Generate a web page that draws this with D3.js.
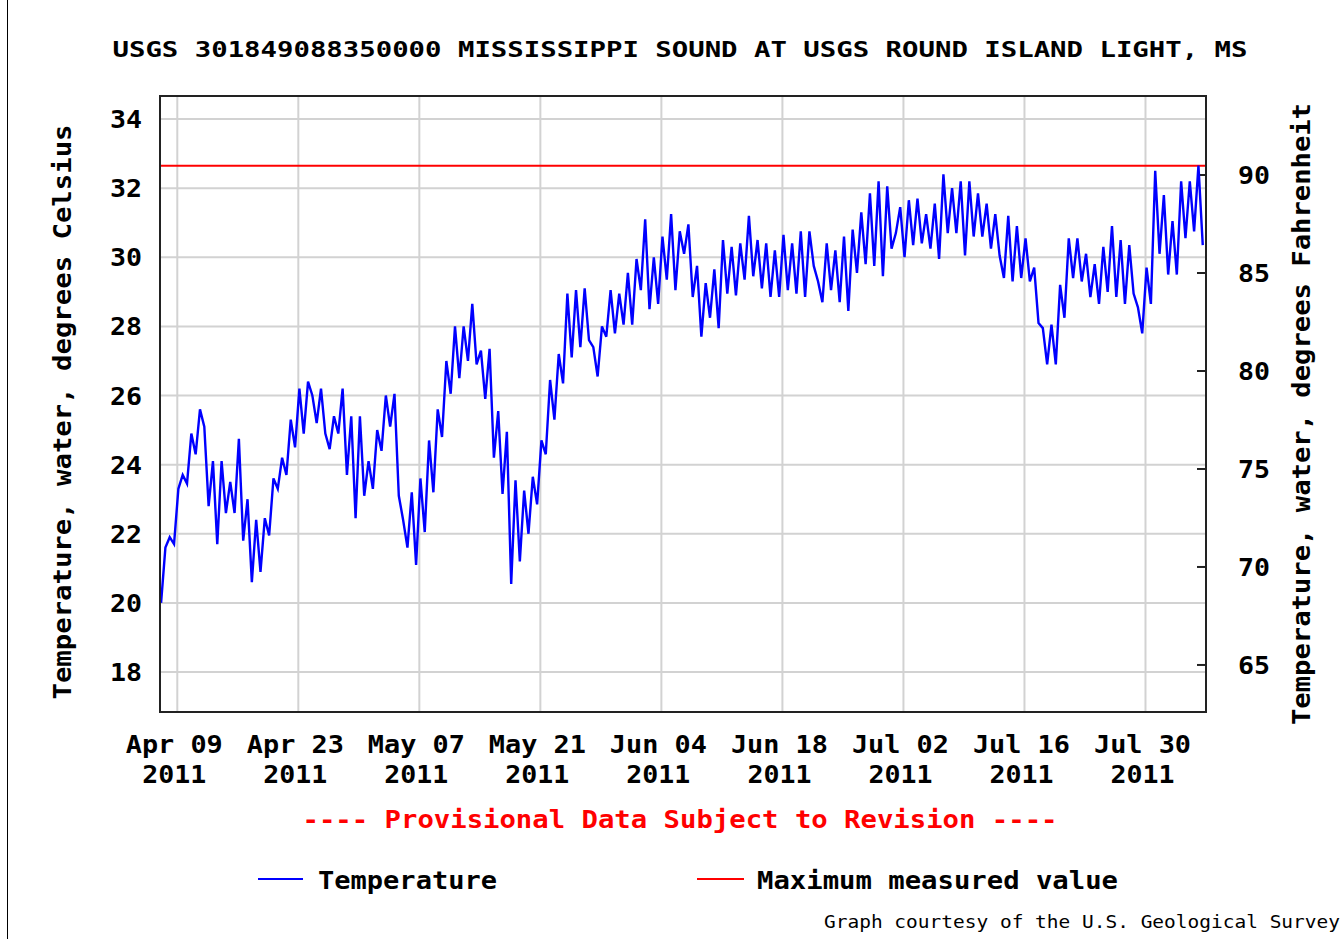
<!DOCTYPE html>
<html><head><meta charset="utf-8">
<script src="https://cdn.jsdelivr.net/npm/d3@7"></script>
<style>
body{margin:0;background:#fff}
svg{display:block}
text{font-family:"DejaVu Sans Mono",monospace}
</style>
</head><body>
<svg id="chart" width="1344" height="939"></svg>
<script>
// ---------------- DATA ----------------
const chartTitle = "USGS 301849088350000 MISSISSIPPI SOUND AT USGS ROUND ISLAND LIGHT, MS";
const leftAxisTitle = "Temperature, water, degrees Celsius";
const rightAxisTitle = "Temperature, water, degrees Fahrenheit";
const provisionalNote = "---- Provisional Data Subject to Revision ----";
const legendLabels = ["Temperature", "Maximum measured value"];
const creditText = "Graph courtesy of the U.S. Geological Survey";

const seriesStart = "2011-04-07 03";   // first reading (local time)
const seriesStepHours = 12;             // spacing of the readings below
// water temperature, degrees Celsius
const temperatureC = [
 20.0,21.6,21.9,21.7,23.3,23.7,23.45,24.9,24.3,25.6,
 25.1,22.8,24.1,21.7,24.1,22.6,23.5,22.6,24.75,21.8,
 23.0,20.6,22.4,20.9,22.45,21.95,23.6,23.3,24.2,23.7,
 25.3,24.5,26.2,24.9,26.4,26.0,25.2,26.2,24.9,24.45,
 25.4,24.9,26.2,23.7,25.4,22.45,25.4,23.1,24.1,23.3,
 25.0,24.4,26.0,25.1,26.05,23.1,22.4,21.6,23.2,21.1,
 23.6,22.05,24.7,23.2,25.6,24.8,27.0,26.05,28.0,26.5,
 28.0,27.0,28.65,26.9,27.3,25.9,27.35,24.2,25.55,23.15,
 24.95,20.55,23.55,21.2,23.25,22.0,23.65,22.85,24.7,24.3,
 26.45,25.3,27.2,26.35,28.95,27.1,29.05,27.4,29.1,27.6,
 27.4,26.55,28.0,27.7,29.05,27.8,28.95,28.05,29.55,28.05,
 29.95,29.05,31.1,28.5,30.0,28.65,30.6,29.35,31.25,29.05,
 30.75,30.1,30.95,28.85,29.75,27.7,29.25,28.25,29.65,27.95,
 30.5,28.95,30.3,28.9,30.4,29.35,31.2,29.45,30.5,29.1,
 30.4,28.85,30.2,28.85,30.65,29.05,30.4,28.95,30.75,28.85,
 30.75,29.75,29.3,28.7,30.4,29.05,30.2,28.7,30.6,28.45,
 30.8,29.55,31.3,29.8,31.85,29.75,32.2,29.45,32.05,30.25,
 30.7,31.45,30.0,31.65,30.35,31.7,30.4,31.25,30.25,31.55,
 29.95,32.4,30.7,32.0,30.7,32.2,30.05,32.2,30.6,31.85,
 30.6,31.55,30.25,31.25,30.05,29.4,31.2,29.3,30.9,29.4,
 30.55,29.3,29.7,28.1,27.95,26.9,28.05,26.9,29.2,28.25,
 30.55,29.4,30.55,29.3,30.1,28.85,29.8,28.65,30.3,29.0,
 30.9,28.85,30.5,28.65,30.35,28.95,28.55,27.8,29.7,28.65,
 32.5,30.1,31.8,29.5,31.05,29.5,32.2,30.55,32.2,30.75,
 32.65,30.35
];

const celsiusTicks = [18, 20, 22, 24, 26, 28, 30, 32, 34];
const fahrenheitTicks = [65, 70, 75, 80, 85, 90];
const dateTicks = ["2011-04-09","2011-04-23","2011-05-07","2011-05-21","2011-06-04",
                   "2011-06-18","2011-07-02","2011-07-16","2011-07-30"];
const dateDomain = ["2011-04-07", "2011-08-06"];
const celsiusDomain = [16.843, 34.666];
const fahrenheitDomain = [62.6, 94.03];

// ---------------- LAYOUT ----------------
const W = 1344, H = 939;
const plot = {left: 160, right: 1206, top: 96, bottom: 712};
const blue = "#0000ff", red = "#ff0000", grid = "#d2d2d2";

const parseDay = d3.timeParse("%Y-%m-%d");
const parseHour = d3.timeParse("%Y-%m-%d %H");
const t0 = parseHour(seriesStart);
const series = temperatureC.map((v, i) => ({t: d3.timeHour.offset(t0, i * seriesStepHours), v}));

const x = d3.scaleTime().domain(dateDomain.map(parseDay)).range([plot.left, plot.right]);
const y = d3.scaleLinear().domain(celsiusDomain).range([plot.bottom, plot.top]);
const yF = d3.scaleLinear().domain(fahrenheitDomain).range([plot.bottom, plot.top]);

const svg = d3.select("#chart");
svg.append("rect").attr("width", W).attr("height", H).attr("fill", "#fff");

// outer frame (left edge visible in the reference)
svg.append("line").attr("x1", 7.5).attr("x2", 7.5).attr("y1", 0).attr("y2", H).attr("stroke", "#000").attr("stroke-width", 1);

// title
svg.append("text").attr("x", 680).attr("y", 57).attr("text-anchor", "middle")
  .attr("font-size", 21).attr("font-weight", "bold").attr("fill", "#000")
  .attr("textLength", 1135).attr("lengthAdjust", "spacingAndGlyphs").text(chartTitle);

// grid
const gGrid = svg.append("g");
gGrid.selectAll("line.h").data(celsiusTicks).join("line")
  .attr("x1", plot.left).attr("x2", plot.right)
  .attr("y1", d => y(d)).attr("y2", d => y(d))
  .attr("stroke", grid).attr("stroke-width", 2);
gGrid.selectAll("line.v").data(dateTicks.map(parseDay)).join("line")
  .attr("x1", d => x(d)).attr("x2", d => x(d))
  .attr("y1", plot.top).attr("y2", plot.bottom)
  .attr("stroke", grid).attr("stroke-width", 2);

// left axis labels
svg.append("g").selectAll("text").data(celsiusTicks).join("text")
  .attr("x", 142).attr("y", d => y(d) + 9).attr("text-anchor", "end")
  .attr("font-size", 24).attr("font-weight", "bold")
  .attr("textLength", 32).attr("lengthAdjust", "spacingAndGlyphs")
  .text(d => d);

// right axis ticks + labels
const gR = svg.append("g");
gR.selectAll("line").data(fahrenheitTicks).join("line")
  .attr("x1", plot.right - 9).attr("x2", plot.right)
  .attr("y1", d => yF(d)).attr("y2", d => yF(d))
  .attr("stroke", "#222").attr("stroke-width", 2);
gR.selectAll("text").data(fahrenheitTicks).join("text")
  .attr("x", 1238).attr("y", d => yF(d) + 9)
  .attr("font-size", 24).attr("font-weight", "bold")
  .attr("textLength", 32).attr("lengthAdjust", "spacingAndGlyphs")
  .text(d => d);

// bottom axis labels (two lines)
const fmtDay = d3.timeFormat("%b %d"), fmtYear = d3.timeFormat("%Y");
const gB = svg.append("g");
gB.selectAll("text.d").data(dateTicks.map(parseDay)).join("text")
  .attr("x", d => x(d) - 3).attr("y", 753).attr("text-anchor", "middle")
  .attr("font-size", 24).attr("font-weight", "bold")
  .attr("textLength", 97).attr("lengthAdjust", "spacingAndGlyphs")
  .text(d => fmtDay(d));
gB.selectAll("text.y").data(dateTicks.map(parseDay)).join("text")
  .attr("x", d => x(d) - 3).attr("y", 783).attr("text-anchor", "middle")
  .attr("font-size", 24).attr("font-weight", "bold")
  .attr("textLength", 64).attr("lengthAdjust", "spacingAndGlyphs")
  .text(d => fmtYear(d));

// axis titles
svg.append("text").attr("transform", "translate(71,412) rotate(-90)")
  .attr("text-anchor", "middle").attr("font-size", 24).attr("font-weight", "bold")
  .attr("textLength", 575).attr("lengthAdjust", "spacingAndGlyphs").text(leftAxisTitle);
svg.append("text").attr("transform", "translate(1310,414) rotate(-90)")
  .attr("text-anchor", "middle").attr("font-size", 24).attr("font-weight", "bold")
  .attr("textLength", 622).attr("lengthAdjust", "spacingAndGlyphs").text(rightAxisTitle);

// clip
svg.append("clipPath").attr("id", "clip").append("rect")
  .attr("x", plot.left).attr("y", plot.top)
  .attr("width", plot.right - plot.left).attr("height", plot.bottom - plot.top);

// max measured value line
const maxVal = d3.max(temperatureC);
svg.append("line").attr("x1", plot.left).attr("x2", plot.right)
  .attr("y1", y(maxVal)).attr("y2", y(maxVal))
  .attr("stroke", red).attr("stroke-width", 2);

// temperature line
const line = d3.line().x(d => x(d.t)).y(d => y(d.v));
svg.append("path").datum(series).attr("d", line)
  .attr("clip-path", "url(#clip)")
  .attr("fill", "none").attr("stroke", blue).attr("stroke-width", 2.4)
  .attr("stroke-linejoin", "miter");

// plot border
svg.append("rect").attr("x", plot.left).attr("y", plot.top)
  .attr("width", plot.right - plot.left).attr("height", plot.bottom - plot.top)
  .attr("fill", "none").attr("stroke", "#222").attr("stroke-width", 2);

// provisional note
svg.append("text").attr("x", 680).attr("y", 828).attr("text-anchor", "middle")
  .attr("font-size", 24).attr("font-weight", "bold").attr("fill", red)
  .attr("textLength", 755).attr("lengthAdjust", "spacingAndGlyphs").text(provisionalNote);

// legend
const legend = [
  {label: legendLabels[0], color: blue, x1: 258, x2: 303, tx: 318, tw: 179},
  {label: legendLabels[1], color: red, x1: 697, x2: 744, tx: 757, tw: 361}
];
const gL = svg.append("g");
gL.selectAll("line").data(legend).join("line")
  .attr("x1", d => d.x1).attr("x2", d => d.x2).attr("y1", 879).attr("y2", 879)
  .attr("stroke", d => d.color).attr("stroke-width", 2);
gL.selectAll("text").data(legend).join("text")
  .attr("x", d => d.tx).attr("y", 889)
  .attr("font-size", 24).attr("font-weight", "bold")
  .attr("textLength", d => d.tw).attr("lengthAdjust", "spacingAndGlyphs")
  .text(d => d.label);

// credit
svg.append("text").attr("x", 824).attr("y", 928)
  .attr("font-size", 17).attr("fill", "#000")
  .attr("textLength", 516).attr("lengthAdjust", "spacingAndGlyphs").text(creditText);
</script>
</body></html>
